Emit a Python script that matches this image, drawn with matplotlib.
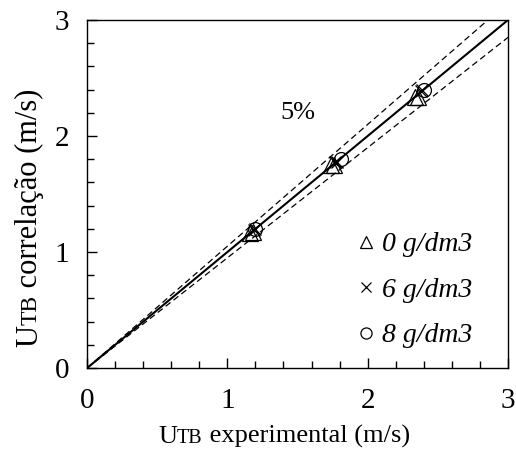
import matplotlib
matplotlib.use('Agg')
import matplotlib.pyplot as plt
import numpy as np
from matplotlib.ticker import MultipleLocator

plt.rcParams['font.family'] = ['Liberation Serif', 'DejaVu Serif']

#--------------------------------------------------
# data
#--------------------------------------------------
line_x = [0, 3]
tol = 0.05

exp_0 = [1.16, 1.18, 1.74, 1.76, 2.34, 2.36]
cor_0 = [1.16, 1.17, 1.75, 1.75, 2.34, 2.34]
exp_6 = [1.19, 1.20, 1.77, 1.78, 2.38, 2.39]
cor_6 = [1.19, 1.20, 1.78, 1.78, 2.39, 2.40]
exp_8 = [1.20, 1.81, 2.40]
cor_8 = [1.20, 1.80, 2.40]

labels = ['0 g/dm3', '6 g/dm3', '8 g/dm3']

fig = plt.figure(figsize=(5.16, 4.5), dpi=100)
ax = fig.add_axes([0.1686, 0.182, 0.8159, 0.7736])

lx = np.array(line_x, dtype=float)
ax.plot(lx, lx, color='black', lw=1.5, zorder=2)
ax.plot(lx, lx * (1 + tol), color='black', lw=0.9, dashes=[5, 3], zorder=2)
ax.plot(lx, lx * (1 - tol), color='black', lw=0.9, dashes=[5, 3], zorder=2)

ax.plot(exp_0, cor_0, ls='none', marker='^', ms=11, mfc='none', mec='black', mew=0.9, label=labels[0])
ax.plot(exp_6, cor_6, ls='none', marker='x', ms=9, mec='black', mew=0.9, label=labels[1])
ax.plot(exp_8, cor_8, ls='none', marker='o', ms=10, mfc='none', mec='black', mew=0.9, label=labels[2])

ax.text(1.5, 2.2, '5%', fontsize=19, ha='center', va='center')

ax.set_xlim(0, 3)
ax.set_ylim(0, 3)
ax.xaxis.set_major_locator(MultipleLocator(1))
ax.yaxis.set_major_locator(MultipleLocator(1))
ax.xaxis.set_minor_locator(MultipleLocator(0.2))
ax.yaxis.set_minor_locator(MultipleLocator(0.2))
ax.tick_params(which='both', direction='in', top=False, right=False, labelsize=21, width=1)
ax.tick_params(which='major', length=7)
ax.tick_params(axis='x', which='major', pad=14)
ax.tick_params(axis='y', which='major', pad=13)
ax.tick_params(which='minor', length=5)
for s in ax.spines.values():
    s.set_linewidth(1)

leg = ax.legend(loc='lower right', bbox_to_anchor=(0.974, -0.015), frameon=False,
                prop={'style': 'italic', 'size': 20}, handlelength=0.55,
                handletextpad=0.3, labelspacing=0.72, markerscale=0.8)

# axis labels: "U" + small "TB" + rest of text
fig.canvas.draw()
r = fig.canvas.get_renderer()

def chain_label(pieces, x0, y0, vertical=False):
    # draw the pieces one after the other along the baseline
    pos = x0 if not vertical else y0
    for txt, size in pieces:
        if vertical:
            t = fig.text(x0, pos, txt, fontsize=size, rotation=90, rotation_mode='anchor',
                         ha='left', va='baseline', transform=None)
        else:
            t = fig.text(pos, y0, txt, fontsize=size, ha='left', va='baseline', transform=None)
        bb = t.get_window_extent(r)
        pos += bb.height if vertical else bb.width

xpieces = [('U', 19), ('TB', 14.5), (' experimental (m/s)', 19)]
ypieces = [('U', 22), ('TB', 17), (' correlação (m/s)', 22)]

chain_label(xpieces, 158, 450 - 443)
chain_label(ypieces, 37, 450 - 347, vertical=True)

fig.savefig('out.png', dpi=100)
